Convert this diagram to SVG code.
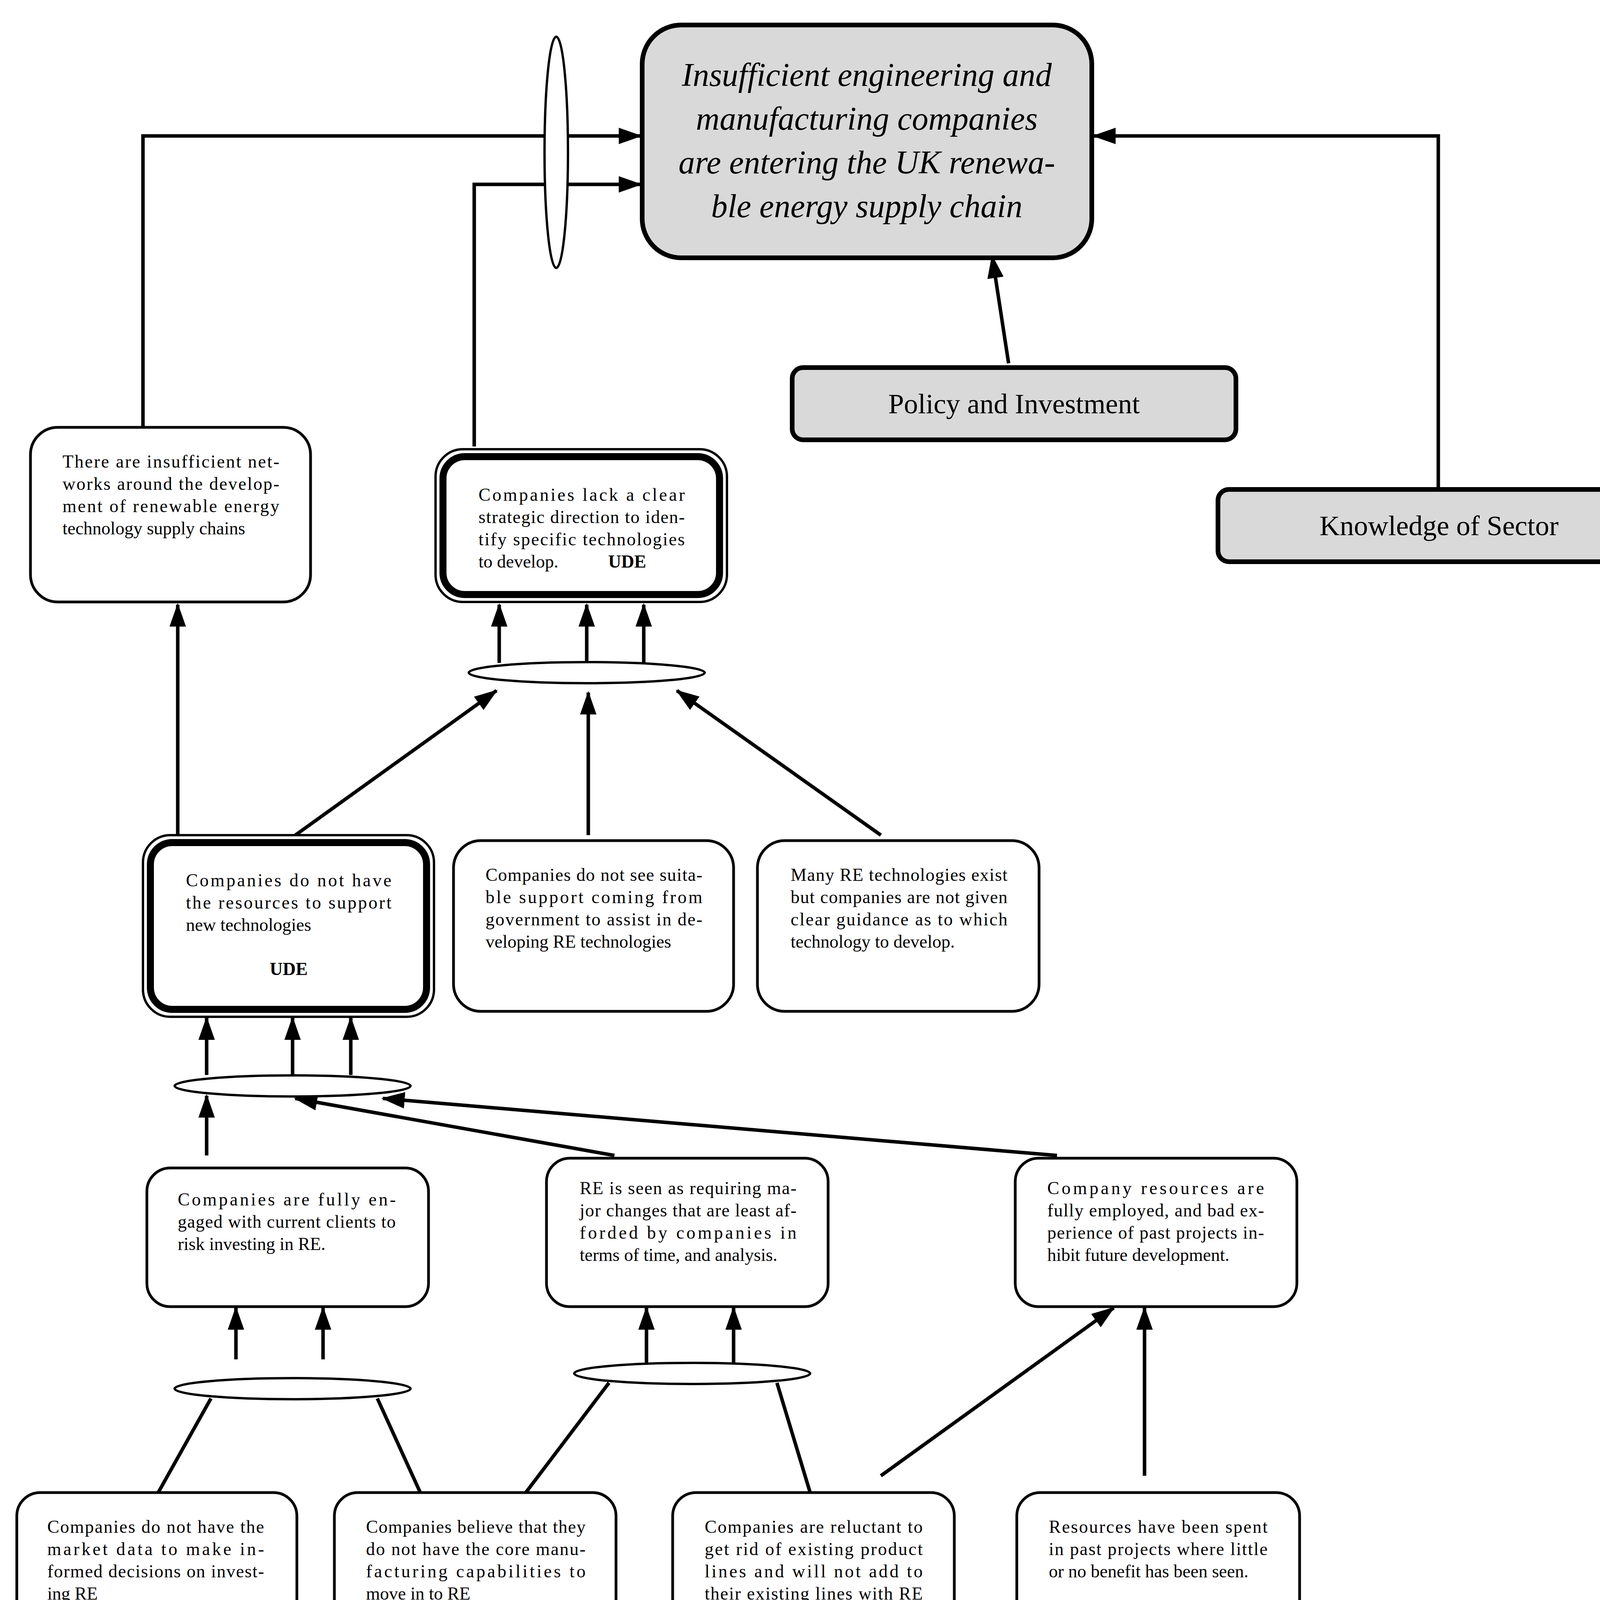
<svg xmlns="http://www.w3.org/2000/svg" width="4297" height="5565" viewBox="0 0 4297 5565">
<style>
.b{fill:#fff;stroke:#000;stroke-width:7}
.g{fill:#d9d9d9;stroke:#000;stroke-width:12}
.e{fill:#fff;stroke:#000;stroke-width:6}
.c{fill:none;stroke:#000;stroke-width:9}
.t{font-family:"Liberation Serif",serif;font-size:46px;fill:#000}
.h{font-family:"Liberation Serif",serif;font-size:72px;fill:#000;text-anchor:middle}
.i{font-family:"Liberation Serif",serif;font-style:italic;font-size:84px;fill:#000;text-anchor:middle}
.u{font-weight:bold}
</style>
<defs>
<marker id="a" markerUnits="userSpaceOnUse" markerWidth="60" markerHeight="50" viewBox="0 0 60 50" refX="56" refY="25" orient="auto"><path d="M0,4 L60,25 L0,46 Z" fill="#000"/></marker>
</defs>
<rect width="4297" height="5565" fill="#fff"/>
<g id="connectors">
<path class="c" d="M366,1094 V348 H1640" marker-end="url(#a)"/>
<path class="c" d="M1214,1143 V472 H1640" marker-end="url(#a)"/>
<path class="c" d="M3682,1253 V348 H2800" marker-end="url(#a)"/>
<path class="c" d="M2582,930 L2540,656" marker-end="url(#a)"/>
<path class="c" d="M1278,1697 V1548" marker-end="url(#a)"/>
<path class="c" d="M1502,1697 V1548" marker-end="url(#a)"/>
<path class="c" d="M1648,1697 V1548" marker-end="url(#a)"/>
<path class="c" d="M756,2138 L1271,1768" marker-end="url(#a)"/>
<path class="c" d="M1506,2138 V1773" marker-end="url(#a)"/>
<path class="c" d="M2255,2138 L1733,1768" marker-end="url(#a)"/>
<path class="c" d="M455,2138 V1548" marker-end="url(#a)"/>
<path class="c" d="M529,2752 V2606" marker-end="url(#a)"/>
<path class="c" d="M749,2752 V2606" marker-end="url(#a)"/>
<path class="c" d="M898,2752 V2606" marker-end="url(#a)"/>
<path class="c" d="M529,2958 V2805" marker-end="url(#a)"/>
<path class="c" d="M1573,2958 L756,2812" marker-end="url(#a)"/>
<path class="c" d="M2706,2958 L980,2812" marker-end="url(#a)"/>
<path class="c" d="M604,3480 V3348" marker-end="url(#a)"/>
<path class="c" d="M827,3480 V3348" marker-end="url(#a)"/>
<path class="c" d="M540,3580 L405,3821"/>
<path class="c" d="M966,3580 L1076,3821"/>
<path class="c" d="M1655,3488 V3348" marker-end="url(#a)"/>
<path class="c" d="M1878,3488 V3348" marker-end="url(#a)"/>
<path class="c" d="M1559,3540 L1346,3821"/>
<path class="c" d="M1989,3540 L2074,3821"/>
<path class="c" d="M2255,3778 L2851,3348" marker-end="url(#a)"/>
<path class="c" d="M2930,3778 V3348" marker-end="url(#a)"/>
<path class="c" d="M2106,4457 V4236" marker-end="url(#a)"/>
<path class="c" d="M2106,5030 V4850" marker-end="url(#a)"/>
<path class="c" d="M2626,5131 H2486" marker-end="url(#a)"/>
<path class="c" d="M2626,5284 H2486" marker-end="url(#a)"/>
<path class="c" d="M3150,5131 H2716" marker-end="url(#a)"/>
<path class="c" d="M3302,5284 H2716" marker-end="url(#a)"/>
<path class="c" d="M3302,4833 H3150" marker-end="url(#a)"/>
<path class="c" d="M3150,4833 V5131" marker-end="url(#a)"/>
</g>
<g id="and1"><ellipse class="e" cx="1424" cy="390" rx="30" ry="296"/></g>
<g id="and2"><ellipse class="e" cx="1502" cy="1722" rx="302" ry="27"/></g>
<g id="and3"><ellipse class="e" cx="749" cy="2780" rx="302" ry="27"/></g>
<g id="and4"><ellipse class="e" cx="749" cy="3555" rx="302" ry="27"/></g>
<g id="and5"><ellipse class="e" cx="1772" cy="3516" rx="302" ry="27"/></g>
<g id="and6"><ellipse class="e" cx="2656" cy="5186" rx="30" ry="311"/></g>
<g id="top">
<rect class="g" x="1644" y="64" width="1151" height="596" rx="100"/>
<text class="i" x="2219" y="220">Insufficient engineering and</text>
<text class="i" x="2219" y="332">manufacturing companies</text>
<text class="i" x="2219" y="444">are entering the UK renewa-</text>
<text class="i" x="2219" y="556">ble energy supply chain</text>
</g>
<g id="policy">
<rect class="g" x="2028" y="941" width="1136" height="185" rx="28"/>
<text class="h" x="2596" y="1058">Policy and Investment</text>
</g>
<g id="knowledge">
<rect class="g" x="3118" y="1253" width="1132" height="185" rx="28"/>
<text class="h" x="3684" y="1370">Knowledge of Sector</text>
</g>
<g id="networks">
<rect class="b" x="78" y="1094" width="717" height="447" rx="70"/>
<text class="t" x="160" y="1197" textLength="555" lengthAdjust="spacing">There are insufficient net-</text>
<text class="t" x="160" y="1254" textLength="555" lengthAdjust="spacing">works around the develop-</text>
<text class="t" x="160" y="1311" textLength="555" lengthAdjust="spacing">ment of renewable energy</text>
<text class="t" x="160" y="1368">technology supply chains</text>
</g>
<g id="ude1">
<rect x="1115" y="1150" width="746" height="391" rx="70" fill="#fff" stroke="#000" stroke-width="6"/>
<rect x="1134" y="1169" width="708" height="353" rx="56" fill="none" stroke="#000" stroke-width="18"/>
<text class="t" x="1225" y="1282" textLength="528" lengthAdjust="spacing">Companies lack a clear</text>
<text class="t" x="1225" y="1339" textLength="528" lengthAdjust="spacing">strategic direction to iden-</text>
<text class="t" x="1225" y="1396" textLength="528" lengthAdjust="spacing">tify specific technologies</text>
<text class="t" x="1225" y="1453">to develop.</text>
<text class="t u" x="1557" y="1453">UDE</text>
</g>
<g id="ude2">
<rect x="366" y="2138" width="745" height="465" rx="70" fill="#fff" stroke="#000" stroke-width="6"/>
<rect x="385" y="2157" width="707" height="427" rx="56" fill="none" stroke="#000" stroke-width="18"/>
<text class="t" x="476" y="2269" textLength="526" lengthAdjust="spacing">Companies do not have</text>
<text class="t" x="476" y="2326" textLength="526" lengthAdjust="spacing">the resources to support</text>
<text class="t" x="476" y="2383">new technologies</text>
<text class="t u" x="739" y="2496" text-anchor="middle">UDE</text>
</g>
<g id="suitable">
<rect class="b" x="1161" y="2152" width="717" height="437" rx="70"/>
<text class="t" x="1243" y="2255" textLength="555" lengthAdjust="spacing">Companies do not see suita-</text>
<text class="t" x="1243" y="2312" textLength="555" lengthAdjust="spacing">ble support coming from</text>
<text class="t" x="1243" y="2369" textLength="555" lengthAdjust="spacing">government to assist in de-</text>
<text class="t" x="1243" y="2426">veloping RE technologies</text>
</g>
<g id="many">
<rect class="b" x="1939" y="2152" width="721" height="437" rx="70"/>
<text class="t" x="2024" y="2255" textLength="555" lengthAdjust="spacing">Many RE technologies exist</text>
<text class="t" x="2024" y="2312" textLength="555" lengthAdjust="spacing">but companies are not given</text>
<text class="t" x="2024" y="2369" textLength="555" lengthAdjust="spacing">clear guidance as to which</text>
<text class="t" x="2024" y="2426">technology to develop.</text>
</g>
<g id="engaged">
<rect class="b" x="376" y="2990" width="721" height="355" rx="60"/>
<text class="t" x="455" y="3086" textLength="558" lengthAdjust="spacing">Companies are fully en-</text>
<text class="t" x="455" y="3143" textLength="558" lengthAdjust="spacing">gaged with current clients to</text>
<text class="t" x="455" y="3200">risk investing in RE.</text>
</g>
<g id="major">
<rect class="b" x="1399" y="2965" width="721" height="380" rx="60"/>
<text class="t" x="1484" y="3057" textLength="555" lengthAdjust="spacing">RE is seen as requiring ma-</text>
<text class="t" x="1484" y="3114" textLength="555" lengthAdjust="spacing">jor changes that are least af-</text>
<text class="t" x="1484" y="3171" textLength="555" lengthAdjust="spacing">forded by companies in</text>
<text class="t" x="1484" y="3228">terms of time, and analysis.</text>
</g>
<g id="employed">
<rect class="b" x="2599" y="2965" width="721" height="380" rx="60"/>
<text class="t" x="2681" y="3057" textLength="555" lengthAdjust="spacing">Company resources are</text>
<text class="t" x="2681" y="3114" textLength="555" lengthAdjust="spacing">fully employed, and bad ex-</text>
<text class="t" x="2681" y="3171" textLength="555" lengthAdjust="spacing">perience of past projects in-</text>
<text class="t" x="2681" y="3228">hibit future development.</text>
</g>
<g id="market">
<rect class="b" x="43" y="3821" width="717" height="362" rx="60"/>
<text class="t" x="121" y="3924" textLength="555" lengthAdjust="spacing">Companies do not have the</text>
<text class="t" x="121" y="3981" textLength="555" lengthAdjust="spacing">market data to make in-</text>
<text class="t" x="121" y="4038" textLength="555" lengthAdjust="spacing">formed decisions on invest-</text>
<text class="t" x="121" y="4095">ing RE</text>
</g>
<g id="core">
<rect class="b" x="856" y="3821" width="721" height="362" rx="60"/>
<text class="t" x="937" y="3924" textLength="562" lengthAdjust="spacing">Companies believe that they</text>
<text class="t" x="937" y="3981" textLength="562" lengthAdjust="spacing">do not have the core manu-</text>
<text class="t" x="937" y="4038" textLength="562" lengthAdjust="spacing">facturing capabilities to</text>
<text class="t" x="937" y="4095">move in to RE</text>
</g>
<g id="reluctant">
<rect class="b" x="1722" y="3821" width="721" height="412" rx="60"/>
<text class="t" x="1804" y="3924" textLength="558" lengthAdjust="spacing">Companies are reluctant to</text>
<text class="t" x="1804" y="3981" textLength="558" lengthAdjust="spacing">get rid of existing product</text>
<text class="t" x="1804" y="4038" textLength="558" lengthAdjust="spacing">lines and will not add to</text>
<text class="t" x="1804" y="4095" textLength="558" lengthAdjust="spacing">their existing lines with RE</text>
<text class="t" x="1804" y="4152">technologies</text>
</g>
<g id="spent">
<rect class="b" x="2603" y="3821" width="724" height="362" rx="60"/>
<text class="t" x="2685" y="3924" textLength="560" lengthAdjust="spacing">Resources have been spent</text>
<text class="t" x="2685" y="3981" textLength="560" lengthAdjust="spacing">in past projects where little</text>
<text class="t" x="2685" y="4038">or no benefit has been seen.</text>
</g>
<g id="sustain">
<rect class="b" x="1729" y="4489" width="721" height="358" rx="60"/>
<text class="t" x="1807" y="4588" textLength="560" lengthAdjust="spacing">Companies do not see any</text>
<text class="t" x="1807" y="4645" textLength="560" lengthAdjust="spacing">long-term sustainability</text>
<text class="t" x="1807" y="4702">from investing in RE</text>
</g>
<g id="financial">
<rect class="b" x="1729" y="5032" width="721" height="358" rx="60"/>
<text class="t" x="1807" y="5131" textLength="560" lengthAdjust="spacing">Companies do not see the fi-</text>
<text class="t" x="1807" y="5188" textLength="560" lengthAdjust="spacing">nancial benefits of investing</text>
<text class="t" x="1807" y="5245" textLength="560" lengthAdjust="spacing">in such an immature tech-</text>
<text class="t" x="1807" y="5302">nology area</text>
</g>
<g id="competition">
<rect class="b" x="3302" y="4606" width="721" height="358" rx="60"/>
<text class="t" x="3384" y="4705" textLength="560" lengthAdjust="spacing">Companies see that there is</text>
<text class="t" x="3384" y="4762" textLength="560" lengthAdjust="spacing">too much competition in the</text>
<text class="t" x="3384" y="4819" textLength="560" lengthAdjust="spacing">market and will not take the</text>
<text class="t" x="3384" y="4876">risk of investing</text>
</g>
<g id="roi">
<rect class="b" x="3302" y="5149" width="721" height="359" rx="60"/>
<text class="t" x="3384" y="5248" textLength="560" lengthAdjust="spacing">Companies see investment</text>
<text class="t" x="3384" y="5305" textLength="560" lengthAdjust="spacing">in RE as having limited ROI</text>
<text class="t" x="3384" y="5362">due to its ‘one off’ nature</text>
</g>
</svg>
